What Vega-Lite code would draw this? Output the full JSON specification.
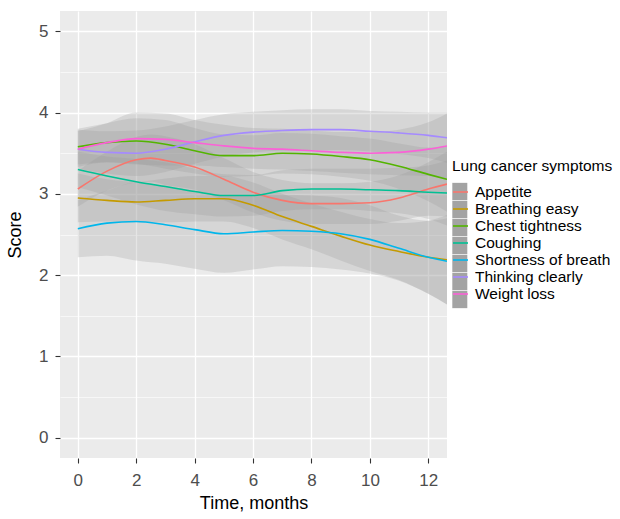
{
  "$schema": "https://vega.github.io/schema/vega-lite/v6.json",
  "width": 387,
  "height": 447,
  "autosize": {"type": "none"},
  "padding": {"left": 60, "top": 11, "right": 173, "bottom": 61},
  "background": "white",
  "config": {
    "font": "Liberation Sans",
    "view": {"fill": "#EBEBEB", "stroke": null},
    "axis": {
      "domain": false,
      "gridColor": "white",
      "tickColor": "#333333",
      "tickSize": 5,
      "tickWidth": 1.1,
      "labelColor": "#4D4D4D",
      "labelFontSize": 17,
      "labelFont": "Liberation Sans",
      "titleFont": "Liberation Sans",
      "titleFontSize": 18,
      "titleFontWeight": "normal",
      "titleColor": "#000000",
      "labelOverlap": false,
      "labelFlush": false
    },
    "legend": {
      "titleFont": "Liberation Sans",
      "labelFont": "Liberation Sans",
      "titleFontWeight": "normal",
      "titleFontSize": 15.5,
      "labelFontSize": 15.5,
      "titleColor": "#000000",
      "labelColor": "#000000"
    }
  },
  "data": {
    "values": [
      {"s": "Appetite", "t": 0, "y": 3.06, "lo": 2.84, "hi": 3.28},
      {"s": "Appetite", "t": 1, "y": 3.28, "lo": 3.04, "hi": 3.52},
      {"s": "Appetite", "t": 2, "y": 3.42, "lo": 3.14, "hi": 3.70},
      {"s": "Appetite", "t": 2.5, "y": 3.44, "lo": 3.15, "hi": 3.73},
      {"s": "Appetite", "t": 3, "y": 3.41, "lo": 3.11, "hi": 3.71},
      {"s": "Appetite", "t": 4, "y": 3.33, "lo": 3.05, "hi": 3.61},
      {"s": "Appetite", "t": 5, "y": 3.18, "lo": 2.92, "hi": 3.44},
      {"s": "Appetite", "t": 6, "y": 3.02, "lo": 2.77, "hi": 3.27},
      {"s": "Appetite", "t": 7, "y": 2.92, "lo": 2.67, "hi": 3.17},
      {"s": "Appetite", "t": 8, "y": 2.88, "lo": 2.63, "hi": 3.13},
      {"s": "Appetite", "t": 9, "y": 2.88, "lo": 2.63, "hi": 3.13},
      {"s": "Appetite", "t": 10, "y": 2.89, "lo": 2.63, "hi": 3.15},
      {"s": "Appetite", "t": 11, "y": 2.95, "lo": 2.67, "hi": 3.23},
      {"s": "Appetite", "t": 12, "y": 3.06, "lo": 2.73, "hi": 3.39},
      {"s": "Appetite", "t": 12.64, "y": 3.12, "lo": 2.72, "hi": 3.52},

      {"s": "Breathing easy", "t": 0, "y": 2.95, "lo": 2.65, "hi": 3.25},
      {"s": "Breathing easy", "t": 1, "y": 2.92, "lo": 2.66, "hi": 3.18},
      {"s": "Breathing easy", "t": 2, "y": 2.90, "lo": 2.65, "hi": 3.15},
      {"s": "Breathing easy", "t": 3, "y": 2.92, "lo": 2.65, "hi": 3.19},
      {"s": "Breathing easy", "t": 4, "y": 2.94, "lo": 2.66, "hi": 3.22},
      {"s": "Breathing easy", "t": 5, "y": 2.94, "lo": 2.66, "hi": 3.22},
      {"s": "Breathing easy", "t": 6, "y": 2.86, "lo": 2.58, "hi": 3.14},
      {"s": "Breathing easy", "t": 7, "y": 2.72, "lo": 2.44, "hi": 3.00},
      {"s": "Breathing easy", "t": 8, "y": 2.60, "lo": 2.32, "hi": 2.88},
      {"s": "Breathing easy", "t": 9, "y": 2.48, "lo": 2.18, "hi": 2.78},
      {"s": "Breathing easy", "t": 10, "y": 2.37, "lo": 2.05, "hi": 2.69},
      {"s": "Breathing easy", "t": 11, "y": 2.29, "lo": 1.94, "hi": 2.64},
      {"s": "Breathing easy", "t": 12, "y": 2.22, "lo": 1.77, "hi": 2.67},
      {"s": "Breathing easy", "t": 12.64, "y": 2.19, "lo": 1.64, "hi": 2.74},

      {"s": "Chest tightness", "t": 0, "y": 3.58, "lo": 3.36, "hi": 3.80},
      {"s": "Chest tightness", "t": 1, "y": 3.63, "lo": 3.39, "hi": 3.87},
      {"s": "Chest tightness", "t": 2, "y": 3.65, "lo": 3.37, "hi": 3.93},
      {"s": "Chest tightness", "t": 3, "y": 3.61, "lo": 3.31, "hi": 3.91},
      {"s": "Chest tightness", "t": 4, "y": 3.53, "lo": 3.25, "hi": 3.81},
      {"s": "Chest tightness", "t": 5, "y": 3.47, "lo": 3.21, "hi": 3.73},
      {"s": "Chest tightness", "t": 6, "y": 3.47, "lo": 3.22, "hi": 3.72},
      {"s": "Chest tightness", "t": 7, "y": 3.50, "lo": 3.25, "hi": 3.75},
      {"s": "Chest tightness", "t": 8, "y": 3.49, "lo": 3.24, "hi": 3.74},
      {"s": "Chest tightness", "t": 9, "y": 3.46, "lo": 3.21, "hi": 3.71},
      {"s": "Chest tightness", "t": 10, "y": 3.42, "lo": 3.16, "hi": 3.68},
      {"s": "Chest tightness", "t": 11, "y": 3.34, "lo": 3.06, "hi": 3.62},
      {"s": "Chest tightness", "t": 12, "y": 3.24, "lo": 2.91, "hi": 3.57},
      {"s": "Chest tightness", "t": 12.64, "y": 3.18, "lo": 2.78, "hi": 3.58},

      {"s": "Coughing", "t": 0, "y": 3.30, "lo": 3.08, "hi": 3.52},
      {"s": "Coughing", "t": 1, "y": 3.22, "lo": 2.98, "hi": 3.46},
      {"s": "Coughing", "t": 2, "y": 3.15, "lo": 2.87, "hi": 3.43},
      {"s": "Coughing", "t": 3, "y": 3.09, "lo": 2.79, "hi": 3.39},
      {"s": "Coughing", "t": 4, "y": 3.03, "lo": 2.75, "hi": 3.31},
      {"s": "Coughing", "t": 5, "y": 2.98, "lo": 2.72, "hi": 3.24},
      {"s": "Coughing", "t": 6, "y": 2.98, "lo": 2.73, "hi": 3.23},
      {"s": "Coughing", "t": 7, "y": 3.04, "lo": 2.79, "hi": 3.29},
      {"s": "Coughing", "t": 8, "y": 3.06, "lo": 2.81, "hi": 3.31},
      {"s": "Coughing", "t": 9, "y": 3.06, "lo": 2.81, "hi": 3.31},
      {"s": "Coughing", "t": 10, "y": 3.05, "lo": 2.79, "hi": 3.31},
      {"s": "Coughing", "t": 11, "y": 3.04, "lo": 2.76, "hi": 3.32},
      {"s": "Coughing", "t": 12, "y": 3.02, "lo": 2.69, "hi": 3.35},
      {"s": "Coughing", "t": 12.64, "y": 3.01, "lo": 2.61, "hi": 3.41},

      {"s": "Shortness of breath", "t": 0, "y": 2.57, "lo": 2.22, "hi": 2.92},
      {"s": "Shortness of breath", "t": 1, "y": 2.64, "lo": 2.24, "hi": 3.04},
      {"s": "Shortness of breath", "t": 2, "y": 2.66, "lo": 2.18, "hi": 3.14},
      {"s": "Shortness of breath", "t": 3, "y": 2.62, "lo": 2.14, "hi": 3.10},
      {"s": "Shortness of breath", "t": 4, "y": 2.56, "lo": 2.08, "hi": 3.04},
      {"s": "Shortness of breath", "t": 5, "y": 2.51, "lo": 2.03, "hi": 2.99},
      {"s": "Shortness of breath", "t": 6, "y": 2.53, "lo": 2.07, "hi": 2.99},
      {"s": "Shortness of breath", "t": 7, "y": 2.55, "lo": 2.11, "hi": 2.99},
      {"s": "Shortness of breath", "t": 8, "y": 2.54, "lo": 2.10, "hi": 2.98},
      {"s": "Shortness of breath", "t": 9, "y": 2.51, "lo": 2.07, "hi": 2.95},
      {"s": "Shortness of breath", "t": 10, "y": 2.44, "lo": 2.02, "hi": 2.86},
      {"s": "Shortness of breath", "t": 11, "y": 2.33, "lo": 1.93, "hi": 2.73},
      {"s": "Shortness of breath", "t": 12, "y": 2.22, "lo": 1.77, "hi": 2.67},
      {"s": "Shortness of breath", "t": 12.64, "y": 2.17, "lo": 1.64, "hi": 2.70},

      {"s": "Thinking clearly", "t": 0, "y": 3.55, "lo": 3.31, "hi": 3.79},
      {"s": "Thinking clearly", "t": 1, "y": 3.51, "lo": 3.25, "hi": 3.77},
      {"s": "Thinking clearly", "t": 2, "y": 3.50, "lo": 3.22, "hi": 3.78},
      {"s": "Thinking clearly", "t": 3, "y": 3.55, "lo": 3.27, "hi": 3.83},
      {"s": "Thinking clearly", "t": 4, "y": 3.64, "lo": 3.37, "hi": 3.91},
      {"s": "Thinking clearly", "t": 5, "y": 3.72, "lo": 3.46, "hi": 3.98},
      {"s": "Thinking clearly", "t": 6, "y": 3.76, "lo": 3.51, "hi": 4.01},
      {"s": "Thinking clearly", "t": 7, "y": 3.78, "lo": 3.53, "hi": 4.03},
      {"s": "Thinking clearly", "t": 8, "y": 3.79, "lo": 3.54, "hi": 4.04},
      {"s": "Thinking clearly", "t": 9, "y": 3.79, "lo": 3.54, "hi": 4.04},
      {"s": "Thinking clearly", "t": 10, "y": 3.77, "lo": 3.52, "hi": 4.02},
      {"s": "Thinking clearly", "t": 11, "y": 3.75, "lo": 3.49, "hi": 4.01},
      {"s": "Thinking clearly", "t": 12, "y": 3.72, "lo": 3.44, "hi": 4.00},
      {"s": "Thinking clearly", "t": 12.64, "y": 3.69, "lo": 3.38, "hi": 4.00},

      {"s": "Weight loss", "t": 0, "y": 3.55, "lo": 3.33, "hi": 3.77},
      {"s": "Weight loss", "t": 1, "y": 3.63, "lo": 3.39, "hi": 3.87},
      {"s": "Weight loss", "t": 2, "y": 3.68, "lo": 3.36, "hi": 4.00},
      {"s": "Weight loss", "t": 3, "y": 3.67, "lo": 3.35, "hi": 3.99},
      {"s": "Weight loss", "t": 4, "y": 3.63, "lo": 3.35, "hi": 3.91},
      {"s": "Weight loss", "t": 5, "y": 3.59, "lo": 3.33, "hi": 3.85},
      {"s": "Weight loss", "t": 6, "y": 3.56, "lo": 3.31, "hi": 3.81},
      {"s": "Weight loss", "t": 7, "y": 3.55, "lo": 3.30, "hi": 3.80},
      {"s": "Weight loss", "t": 8, "y": 3.53, "lo": 3.28, "hi": 3.78},
      {"s": "Weight loss", "t": 9, "y": 3.51, "lo": 3.26, "hi": 3.76},
      {"s": "Weight loss", "t": 10, "y": 3.50, "lo": 3.24, "hi": 3.76},
      {"s": "Weight loss", "t": 11, "y": 3.51, "lo": 3.23, "hi": 3.79},
      {"s": "Weight loss", "t": 12, "y": 3.55, "lo": 3.22, "hi": 3.88},
      {"s": "Weight loss", "t": 12.64, "y": 3.59, "lo": 3.19, "hi": 3.99}
    ]
  },
  "layer": [
    {
      "mark": {"type": "area", "interpolate": "monotone", "opacity": 0.25, "clip": true},
      "encoding": {
        "x": {
          "field": "t", "type": "quantitative",
          "scale": {"domain": [-0.61, 12.64], "nice": false, "zero": false},
          "axis": {
            "title": "Time, months",
            "values": [0, 1, 2, 3, 4, 5, 6, 7, 8, 9, 10, 11, 12],
            "labelExpr": "datum.value % 2 === 0 ? format(datum.value, 'd') : ''",
            "tickOpacity": {"condition": {"test": "datum.value % 2 === 0", "value": 1}, "value": 0},
            "gridWidth": {"condition": {"test": "datum.value % 2 === 0", "value": 1.3}, "value": 0.6},
            "labelPadding": 9,
            "titlePadding": 6
          }
        },
        "y": {
          "field": "lo", "type": "quantitative",
          "scale": {"domain": [-0.25, 5.25], "nice": false, "zero": false},
          "axis": {
            "title": "Score",
            "values": [0, 0.5, 1, 1.5, 2, 2.5, 3, 3.5, 4, 4.5, 5],
            "labelExpr": "datum.value % 1 === 0 ? format(datum.value, 'd') : ''",
            "tickOpacity": {"condition": {"test": "datum.value % 1 === 0", "value": 1}, "value": 0},
            "gridWidth": {"condition": {"test": "datum.value % 1 === 0", "value": 1.3}, "value": 0.6},
            "labelPadding": 7,
            "titlePadding": 14
          }
        },
        "y2": {"field": "hi"},
        "fill": {
          "field": "s", "type": "nominal",
          "scale": {"range": ["#999999", "#999999", "#999999", "#999999", "#999999", "#999999", "#999999"]},
          "legend": {
            "title": null,
            "labelExpr": "''",
            "orient": "none",
            "legendX": 390.8,
            "legendY": 171.5,
            "padding": 0,
            "symbolType": "M-0.866,-1H0.866V1H-0.866Z",
            "symbolSize": 300,
            "symbolOpacity": 0.9,
            "symbolStrokeWidth": 0,
            "labelOffset": 0,
            "rowPadding": 0
          }
        }
      }
    },
    {
      "mark": {"type": "line", "interpolate": "monotone", "strokeWidth": 1.6, "clip": true},
      "encoding": {
        "x": {"field": "t", "type": "quantitative"},
        "y": {"field": "y", "type": "quantitative"},
        "stroke": {
          "field": "s", "type": "nominal",
          "scale": {
            "domain": ["Appetite", "Breathing easy", "Chest tightness", "Coughing", "Shortness of breath", "Thinking clearly", "Weight loss"],
            "range": ["#F8766D", "#C49A00", "#53B400", "#00C094", "#00B6EB", "#A58AFF", "#FB61D7"]
          },
          "legend": {
            "title": "Lung cancer symptoms",
            "orient": "none",
            "legendX": 392,
            "legendY": 148,
            "padding": 0,
            "symbolType": "stroke",
            "symbolSize": 225,
            "symbolStrokeWidth": 1.6,
            "labelOffset": 6,
            "rowPadding": 0,
            "titlePadding": 9
          }
        }
      }
    }
  ]
}
